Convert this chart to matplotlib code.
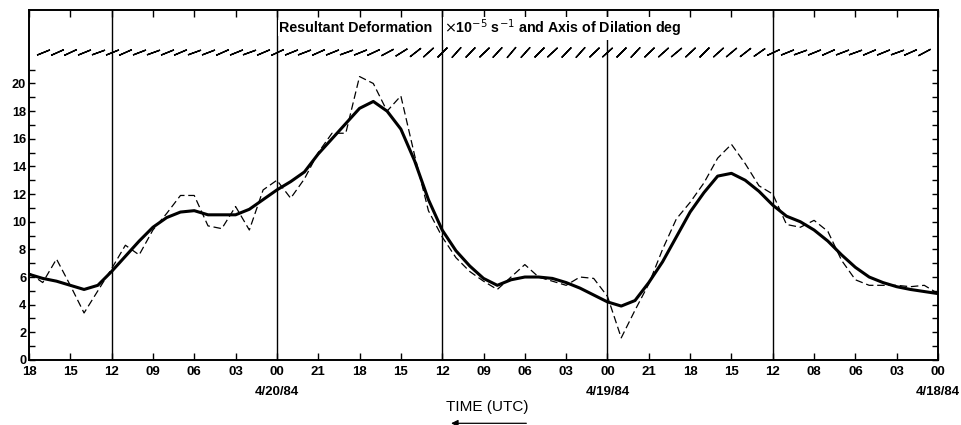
import numpy as np
import matplotlib.pyplot as plt
from matplotlib.ticker import FixedLocator

plt.rcParams['font.family'] = ['Liberation Sans', 'DejaVu Sans']

# hours after 4/18/84 00 UTC, time runs right to left
hours = np.arange(66, -1, -1)

# hourly resultant deformation (x10^-5 s^-1), h66 ... h0
raw_deform = [6.3, 5.6, 7.3, 5.4, 3.4, 5.0, 6.6, 8.3, 7.6, 9.4,
              10.6, 11.9, 11.9, 9.7, 9.5, 11.1, 9.4, 12.3, 13.0, 11.7,
              13.1, 15.0, 16.4, 16.4, 20.5, 20.0, 18.0, 19.1, 14.8, 10.8,
              8.9, 7.4, 6.4, 5.7, 5.1, 6.0, 6.9, 6.0, 5.7, 5.4,
              6.0, 5.9, 4.6, 1.6, 3.6, 5.5, 8.0, 10.2, 11.4, 12.8,
              14.6, 15.6, 14.2, 12.6, 12.0, 9.8, 9.6, 10.1, 9.3, 7.2,
              5.8, 5.4, 5.4, 5.4, 5.3, 5.4, 4.8]

smooth_deform = [6.2, 5.9, 5.7, 5.4, 5.1, 5.4, 6.4, 7.5, 8.6, 9.6,
                 10.3, 10.7, 10.8, 10.5, 10.5, 10.5, 10.9, 11.6, 12.3, 12.9,
                 13.6, 14.9, 16.0, 17.1, 18.2, 18.7, 18.0, 16.7, 14.4, 11.6,
                 9.4, 7.9, 6.8, 5.9, 5.4, 5.8, 6.0, 6.0, 5.9, 5.6,
                 5.2, 4.7, 4.2, 3.9, 4.3, 5.6, 7.1, 8.9, 10.7, 12.1,
                 13.3, 13.5, 13.0, 12.2, 11.2, 10.4, 10.0, 9.4, 8.6, 7.6,
                 6.7, 6.0, 5.6, 5.3, 5.1, 4.95, 4.8]

# axis of dilation, drawn as slashes along the top (h65 ... h1), degrees from horizontal
dil_hours = np.arange(65, 0, -1)
dil_angle = [22, 24, 25, 22, 20, 22, 24, 21, 20, 22, 23, 20, 21, 24, 22, 20, 23, 25, 22, 21, 24, 22,
             20, 22, 25, 28, 32, 38, 42,
             45, 48, 46, 44, 47, 50, 48, 45, 43, 46, 48, 44, 42, 45, 47, 44, 42, 40, 43, 45, 42, 40, 38, 35,
             25, 22, 20, 22, 24, 21, 20, 23, 22, 20, 24, 28]

tick_hours = np.arange(66, -1, -3)
tick_labels = ['18', '15', '12', '09', '06', '03', '00', '21', '18', '15', '12', '09',
               '06', '03', '00', '21', '18', '15', '12', '08', '06', '03', '00']
day_lines = [60, 48, 36, 24, 12]
date_hours = [48, 24, 0]
date_labels = ['4/20/84', '4/19/84', '4/18/84']

fig = plt.figure(figsize=(9.62, 4.25), dpi=100)
ax = fig.add_axes([0.0301, 0.153, 0.945, 0.823])

for h in day_lines:
    ax.axvline(h, color='black', lw=1.0)

ax.plot(hours, raw_deform, color='black', lw=0.9, dashes=(6, 3))
ax.plot(hours, smooth_deform, color='black', lw=2.2)

# slashes for axis of dilation
for h, a in zip(dil_hours, dil_angle):
    ax.plot(h, 22.3, marker=(2, 2, a - 90), ms=10, mew=1.0, color='black')

ax.set_xlim(66, 0)
ax.set_ylim(0, 25.3)

ax.xaxis.set_major_locator(FixedLocator(tick_hours))
ax.set_xticklabels(tick_labels, fontweight='bold', fontsize=9.5)
ax.yaxis.set_major_locator(FixedLocator(np.arange(0, 21, 2)))
ax.yaxis.set_minor_locator(FixedLocator(np.arange(1, 22, 2)))
ax.set_yticklabels([str(v) for v in range(0, 21, 2)], fontweight='bold', fontsize=9.2)
ax.tick_params(axis='x', direction='in', top=True, length=5, width=1.0, pad=4.5)
ax.tick_params(axis='y', which='both', direction='in', right=True, length=4, width=1.0, pad=2)
for s in ax.spines.values():
    s.set_linewidth(1.4)

for h, lab in zip(date_hours, date_labels):
    ax.text(h, -2.3, lab, ha='center', va='center', fontsize=9.5, fontweight='bold', clip_on=False)

ax.text(36.75, 24.0, 'Resultant Deformation', ha='right', va='center', fontsize=10.3, fontweight='bold',
        bbox=dict(facecolor='white', edgecolor='none', pad=0.5))
ax.text(35.9, 24.0, r'$\times$10$^{-5}$ s$^{-1}$ and Axis of Dilation deg',
        ha='left', va='center', fontsize=10.3, fontweight='bold',
        bbox=dict(facecolor='white', edgecolor='none', pad=0.5))

fig.text(0.506, 0.042, 'TIME (UTC)', ha='center', va='center', fontsize=11)
ax.annotate('', xy=(0.466, 0.004), xytext=(0.55, 0.004), xycoords='figure fraction',
            arrowprops=dict(arrowstyle='-|>', lw=0.9, color='black'))

fig.savefig('out.png', dpi=100)
